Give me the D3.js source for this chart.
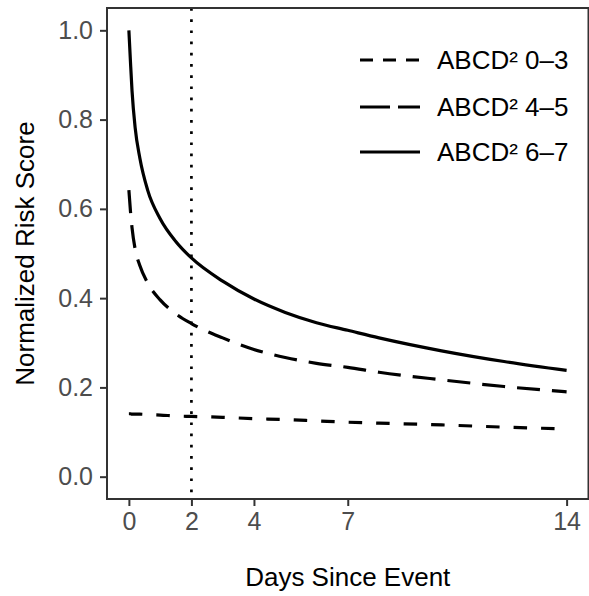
<!DOCTYPE html>
<html>
<head>
<meta charset="utf-8">
<script src="https://cdn.jsdelivr.net/npm/d3@7"></script>
<style>
  body { margin: 0; background: #fff; }
  svg { display: block; font-family: "Liberation Sans", Arial, sans-serif; }
</style>
</head>
<body>
<svg id="chart" width="589" height="596"></svg>
<script>
// values
const days = [0, 0.05, 0.1, 0.2, 0.35, 0.6, 1, 1.5, 2, 3, 4, 5, 6, 7, 8, 10, 12, 14];
const risk03 = [0.141, 0.141, 0.140, 0.140, 0.140, 0.139, 0.138, 0.136, 0.135, 0.133, 0.130, 0.128, 0.125, 0.122, 0.120, 0.116, 0.111, 0.107];
const risk45 = [0.642, 0.595, 0.558, 0.510, 0.473, 0.434, 0.396, 0.365, 0.343, 0.311, 0.285, 0.267, 0.254, 0.245, 0.234, 0.217, 0.202, 0.190];
const risk67 = [1.000, 0.930, 0.865, 0.782, 0.714, 0.642, 0.578, 0.527, 0.490, 0.438, 0.398, 0.368, 0.345, 0.328, 0.311, 0.282, 0.258, 0.238];
const seriesNames = ["ABCD\u00b2 0\u20133", "ABCD\u00b2 4\u20135", "ABCD\u00b2 6\u20137"];
const xTicks = [0, 2, 4, 7, 14];
const yTicks = [0, 0.2, 0.4, 0.6, 0.8, 1.0];
const markerDay = 2;

const panel = { left: 107, right: 588.5, top: 8, bottom: 499 };
const dashes = ["13.5,14", "23,12", null];
const legendDashes = ["13,10", "30,8", null];

const svg = d3.select("#chart");

const x = d3.scaleLinear().domain([-0.7, 14.7]).range([panel.left, panel.right]);
const y = d3.scaleLinear().domain([-0.05, 1.05]).range([panel.bottom, panel.top]);

const series = [risk03, risk45, risk67].map((vals, i) => ({
  name: seriesNames[i],
  points: days.map((d, j) => ({ day: d, value: vals[j] }))
}));

const line = d3.line()
  .x((d) => x(d.day))
  .y((d) => y(d.value))
  .curve(d3.curveMonotoneX);

// dotted reference line
svg.append("line")
  .attr("x1", x(markerDay)).attr("x2", x(markerDay))
  .attr("y1", panel.top).attr("y2", panel.bottom)
  .attr("stroke", "#000")
  .attr("stroke-width", 2.7)
  .attr("stroke-dasharray", "2.7,8.5");

svg.append("g")
  .selectAll("path")
  .data(series)
  .enter()
  .append("path")
  .attr("fill", "none")
  .attr("stroke", "#000")
  .attr("stroke-width", 3.2)
  .attr("stroke-dasharray", (d, i) => dashes[i])
  .attr("d", (d) => line(d.points));

// panel border
svg.append("rect")
  .attr("x", panel.left).attr("y", panel.top)
  .attr("width", panel.right - panel.left)
  .attr("height", panel.bottom - panel.top)
  .attr("fill", "none")
  .attr("stroke", "#333")
  .attr("stroke-width", 2);

// axes
const xAxis = svg.append("g")
  .attr("transform", `translate(0,${panel.bottom})`)
  .call(d3.axisBottom(x).tickValues(xTicks).tickSize(7).tickPadding(6).tickFormat(d3.format("d")));

const yAxis = svg.append("g")
  .attr("transform", `translate(${panel.left},0)`)
  .call(d3.axisLeft(y).tickValues(yTicks).tickSize(7).tickPadding(7).tickFormat(d3.format(".1f")));

[xAxis, yAxis].forEach((g) => {
  g.select(".domain").remove();
  g.selectAll(".tick line").attr("stroke", "#333").attr("stroke-width", 2);
  g.selectAll(".tick text")
    .attr("fill", "#4d4d4d")
    .style("font-size", "25px")
    .style("font-family", "'Liberation Sans', Arial, sans-serif");
});

svg.append("text")
  .attr("x", (panel.left + panel.right) / 2)
  .attr("y", 586)
  .attr("text-anchor", "middle")
  .style("font-size", "26px")
  .text("Days Since Event");

svg.append("text")
  .attr("transform", `translate(34,${(panel.top + panel.bottom) / 2}) rotate(-90)`)
  .attr("text-anchor", "middle")
  .style("font-size", "26px")
  .text("Normalized Risk Score");

// legend
const legendRows = [60, 107, 152];
const legend = svg.append("g");
series.forEach((s, i) => {
  legend.append("line")
    .attr("x1", 360).attr("x2", 420)
    .attr("y1", legendRows[i]).attr("y2", legendRows[i])
    .attr("stroke", "#000")
    .attr("stroke-width", 3.2)
    .attr("stroke-dasharray", legendDashes[i]);
  legend.append("text")
    .attr("x", 437)
    .attr("y", legendRows[i])
    .attr("dy", "0.35em")
    .style("font-size", "26px")
    .text(s.name);
});
</script>
</body>
</html>
